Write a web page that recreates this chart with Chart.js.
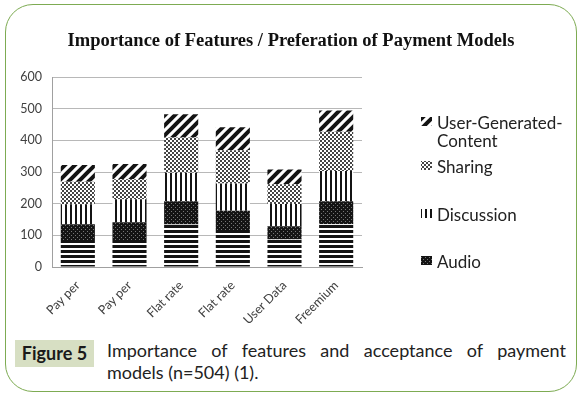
<!DOCTYPE html>
<html>
<head>
<meta charset="utf-8">
<script src="https://cdn.jsdelivr.net/npm/chart.js@4.4.0/dist/chart.umd.min.js"></script>
<style>
  body { margin: 0; background: #fff; width: 582px; height: 398px; overflow: hidden; position: relative; font-family: Lato, 'Open Sans', sans-serif; }
  #frame { position: absolute; left: 5px; top: 4px; width: 572px; height: 388px; border: 1.5px solid #7dab52; border-radius: 28px; box-sizing: border-box; }
  #wrap { position: absolute; left: 0; top: 0; width: 582px; height: 330px; }
  #titulo { position: absolute; left: 0; top: 28px; width: 582px; text-align: center; font-family: 'Liberation Serif', serif; font-weight: bold; font-size: 18.5px; line-height: 24px; color: #111; }
  #fig { position: absolute; left: 15px; top: 340px; width: 79px; height: 27px; background: #d7dfc3; font-weight: bold; font-size: 18px; line-height: 27px; text-align: center; color: #1a1a1a; }
  #cap { position: absolute; left: 107px; top: 339px; width: 459px; font-size: 18px; line-height: 22px; text-align: justify; color: #222; }
</style>
</head>
<body>
<div id="frame"></div>
<div id="wrap"><canvas id="grafico"></canvas></div>
<div id="titulo">Importance of Features / Preferation of Payment Models</div>
<div id="fig">Figure 5</div>
<div id="cap">Importance of features and acceptance of payment models (n=504) (1).</div>
<script>
// dados
const categorias = ['Pay per', 'Pay per', 'Flat rate', 'Flat rate', 'User Data', 'Freemium'];
const video      = [85, 85, 134, 117, 87, 135];
const audio      = [50, 56, 74, 61, 42, 73];
const discussion = [63, 73, 90, 86, 70, 95];
const sharing    = [71, 63, 111, 105, 62, 124];
const ugc        = [53, 48, 73, 72, 47, 67];
const yTicks     = [0, 100, 200, 300, 400, 500, 600];

/* =========================
   Padrões (hachuras)
   ========================= */
function padrao(size, desenha) {
  const c = document.createElement('canvas');
  c.width = size; c.height = size;
  const g = c.getContext('2d');
  g.fillStyle = '#fff';
  g.fillRect(0, 0, size, size);
  desenha(g, size);
  return c.getContext('2d').createPattern(c, 'repeat');
}
const ink = '#141414';
const pHoriz = padrao(5, (g, s) => { g.fillStyle = ink; g.fillRect(0, 0, s, 3); });
const pVert  = padrao(5, (g, s) => { g.fillStyle = ink; g.fillRect(0, 0, 2, s); });
const pAudio = padrao(4, (g, s) => {
  g.fillStyle = ink; g.fillRect(0, 0, s, s);
  g.fillStyle = '#777'; g.fillRect(1, 1, 1, 1); g.fillRect(3, 3, 1, 1);
});
const pShare = padrao(4, (g) => {
  g.fillStyle = '#444'; g.fillRect(0, 0, 2, 2); g.fillRect(2, 2, 2, 2);
});
const pDiag = padrao(10, (g, s) => {
  g.strokeStyle = ink; g.lineWidth = 4;
  g.beginPath();
  g.moveTo(-2, s + 2); g.lineTo(s + 2, -2);
  g.moveTo(-3, 3); g.lineTo(3, -3);
  g.moveTo(s - 3, s + 3); g.lineTo(s + 3, s - 3);
  g.stroke();
});

/* =========================
   Legenda manual (4 itens, texto quebrado)
   ========================= */
const legendaPlugin = {
  id: 'legendaManual',
  afterDraw(chart) {
    const ctx = chart.ctx;
    const itens = [
      { ds: 4, linhas: ['User-Generated-', 'Content'], base: 129 },
      { ds: 3, linhas: ['Sharing'], base: 173 },
      { ds: 2, linhas: ['Discussion'], base: 221 },
      { ds: 1, linhas: ['Audio'], base: 268 }
    ];
    ctx.save();
    ctx.font = '17px Lato, sans-serif';
    ctx.textBaseline = 'alphabetic';
    ctx.textAlign = 'left';
    itens.forEach(it => {
      ctx.fillStyle = chart.data.datasets[it.ds].backgroundColor;
      ctx.fillRect(421, it.base - 12, 11, 9);
      ctx.fillStyle = '#222';
      it.linhas.forEach((l, i) => ctx.fillText(l, 437, it.base + i * 18));
    });
    ctx.restore();
  }
};

const fonteTick = { family: 'Lato, sans-serif', size: 12.5 };

new Chart(document.getElementById('grafico').getContext('2d'), {
  type: 'bar',
  data: {
    labels: categorias,
    datasets: [
      { label: 'Video', data: video, backgroundColor: pHoriz },
      { label: 'Audio', data: audio, backgroundColor: pAudio },
      { label: 'Discussion', data: discussion, backgroundColor: pVert },
      { label: 'Sharing', data: sharing, backgroundColor: pShare },
      { label: 'User-Generated-Content', data: ugc, backgroundColor: pDiag }
    ]
  },
  options: {
    responsive: true,
    maintainAspectRatio: false,
    animation: false,
    barPercentage: 0.66,
    categoryPercentage: 1,
    layout: { padding: { left: 10, right: 220, top: 77, bottom: 0 } },
    plugins: {
      legend: { display: false },
      tooltip: { enabled: false },
      title: { display: false }
    },
    scales: {
      x: {
        stacked: true,
        grid: { display: false },
        border: { color: '#a0a0a0' },
        ticks: { minRotation: 45, maxRotation: 45, autoSkip: false, color: '#404040', font: fonteTick },
        afterFit(s) { s.height = 63; }
      },
      y: {
        stacked: true,
        min: 0,
        max: 600,
        afterBuildTicks(s) { s.ticks = yTicks.map(v => ({ value: v })); },
        grid: { color: '#b8b8b8', drawTicks: false },
        border: { color: '#a0a0a0' },
        ticks: { padding: 10, color: '#404040', font: fonteTick },
        afterFit(s) { s.width = 42; }
      }
    }
  },
  plugins: [legendaPlugin]
});
</script>
</body>
</html>
